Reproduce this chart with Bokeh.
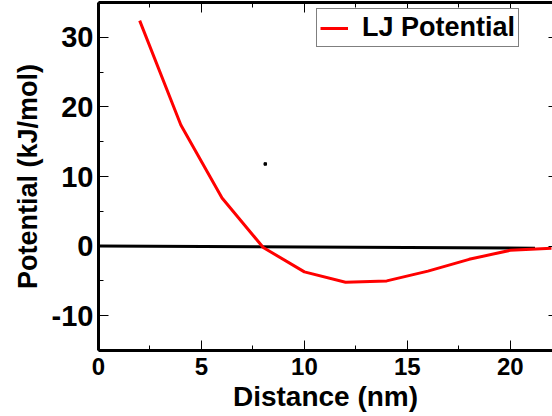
from bokeh.plotting import figure
from bokeh.models import Range1d, LinearAxis, SingleIntervalTicker, Legend, LegendItem, CustomJSTickFormatter
from bokeh.embed import file_html
from bokeh.resources import INLINE

# Data
distance_nm = [2, 4, 6, 8, 10, 12, 14, 16, 18, 20, 22]
lj_potential = [32.4, 17.4, 6.9, -0.2, -3.7, -5.2, -5.0, -3.6, -1.9, -0.6, -0.3]
ref_x = [0, 21.2]
ref_y = [0.0, -0.3]
stray_x = [8.1]
stray_y = [11.8]

x_ticks_interval = 5
y_ticks_interval = 10
x_label = "Distance (nm)"
y_label = "Potential (kJ/mol)"
series_name = "LJ Potential"

FONT = "Liberation Sans"

p = figure(width=552, height=416, x_range=Range1d(0, 22.05), y_range=Range1d(-15, 35),
           output_backend="svg", toolbar_location=None,
           min_border_left=98, min_border_right=0, min_border_top=2, min_border_bottom=66,
           x_axis_location=None, y_axis_location=None)
p.grid.visible = False
p.outline_line_color = None
p.background_fill_color = "white"
p.border_fill_color = "white"

xt = SingleIntervalTicker(interval=x_ticks_interval, num_minor_ticks=2)
yt = SingleIntervalTicker(interval=y_ticks_interval, num_minor_ticks=2)

plain = CustomJSTickFormatter(code="return tick.toFixed(0)")
blank = CustomJSTickFormatter(code="return ''")


def style(ax, labels=True):
    ax.axis_line_width = 3
    ax.axis_line_color = "black"
    ax.major_tick_in = 10
    ax.major_tick_out = 0
    ax.minor_tick_in = 5
    ax.minor_tick_out = 0
    ax.major_tick_line_color = "black"
    ax.minor_tick_line_color = "black"
    ax.major_tick_line_width = 1
    ax.minor_tick_line_width = 1
    ax.major_label_text_font = FONT
    ax.major_label_text_font_style = "bold"
    ax.major_label_text_color = "black"
    ax.axis_label_text_font = FONT
    ax.axis_label_text_font_style = "bold"
    ax.axis_label_text_color = "black"
    if labels:
        ax.formatter = plain
    else:
        ax.formatter = blank
        ax.major_label_standoff = 0


bottom = LinearAxis(ticker=xt, axis_label=x_label)
style(bottom)
bottom.major_label_text_font_size = "24px"
bottom.axis_label_text_font_size = "28px"
bottom.major_label_standoff = 7
bottom.axis_label_standoff = 3
p.add_layout(bottom, "below")

left = LinearAxis(ticker=yt, axis_label=y_label)
style(left)
left.major_label_text_font_size = "29px"
left.axis_label_text_font_size = "27px"
left.major_label_standoff = 5
left.axis_label_standoff = 6
p.add_layout(left, "left")

top = LinearAxis(ticker=xt)
style(top, labels=False)
p.add_layout(top, "above")

right = LinearAxis(ticker=yt)
style(right, labels=False)
right.axis_line_color = None
right.major_tick_in = 4
right.minor_tick_in = 0
p.add_layout(right, "right")

p.line(ref_x, ref_y, line_color="black", line_width=3)
r = p.line(distance_nm, lj_potential, line_color="red", line_width=3)
p.scatter(stray_x, stray_y, marker="square", size=2.5, color="black")

legend = Legend(items=[LegendItem(label=series_name, renderers=[r])],
                location=(218, 303))
legend.label_text_font = FONT
legend.label_text_font_style = "bold"
legend.label_text_font_size = "27px"
legend.label_text_color = "black"
legend.border_line_color = "black"
legend.border_line_width = 1
legend.background_fill_color = "white"
legend.background_fill_alpha = 1
legend.padding = 3
legend.margin = 0
legend.glyph_width = 28
legend.label_standoff = 14
legend.spacing = 0
p.add_layout(legend, "center")

open("out.html", "w").write(file_html(p, INLINE))
